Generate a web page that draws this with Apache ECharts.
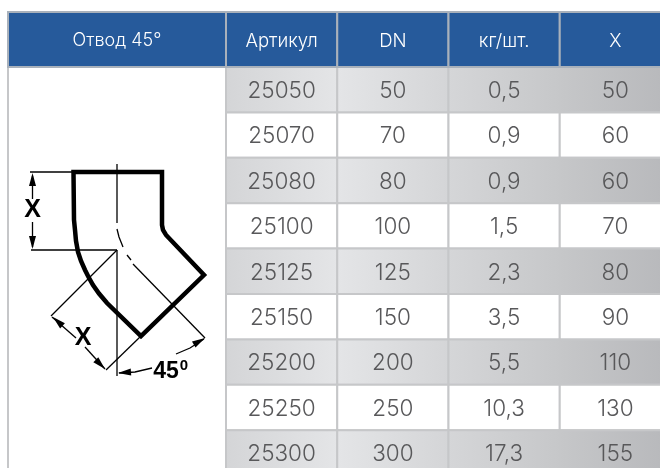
<!DOCTYPE html>
<html>
<head>
<meta charset="utf-8">
<style>
html,body{margin:0;padding:0;background:#fff;}
#main{width:660px;height:468px;}
</style>
<script src="https://cdn.jsdelivr.net/npm/echarts@6/dist/echarts.min.js"></script>
</head>
<body>
<div id="main"></div>
<script>
var headers = ['Артикул', 'DN', 'кг/шт.', 'X'];
var rowIds = ['25050', '25070', '25080', '25100', '25125', '25150', '25200', '25250', '25300'];
var articles = ['25050', '25070', '25080', '25100', '25125', '25150', '25200', '25250', '25300'];
var dnValues = ['50', '70', '80', '100', '125', '150', '200', '250', '300'];
var massValues = ['0,5', '0,9', '0,9', '1,5', '2,3', '3,5', '5,5', '10,3', '17,3'];
var xValues = ['50', '60', '60', '70', '80', '90', '110', '130', '155'];
var columns = [articles, dnValues, massValues, xValues];

var FONT = 'Inter, Roboto, sans-serif';
var BLUE = '#265a9b';
// gradient of the striped rows, one pair per column
var stripe = [['#d4d5d7', '#e4e5e7'], ['#e4e5e7', '#d4d5d7'], ['#d5d6d8', '#c6c7c9'], ['#c6c7c9', '#b7b8bb']];

function cellData() {
  var out = [];
  rowIds.forEach(function (id, r) {
    columns.forEach(function (col, c) {
      out.push([c, r]);
    });
  });
  return out;
}

function renderBody(params, api) {
  var c = api.value(0), r = api.value(1);
  var p = api.coord([c, r]);
  var s = api.size([1, 1]);
  var x = p[0] - s[0] / 2, y = p[1] - s[1] / 2;
  var fill = '#fff';
  if (r % 2 === 0) {
    fill = new echarts.graphic.LinearGradient(0, 0, 1, 0, [
      { offset: 0, color: stripe[c][0] },
      { offset: 1, color: stripe[c][1] }
    ]);
  }
  return {
    type: 'group',
    children: [
      { type: 'rect', shape: { x: x, y: y, width: s[0], height: s[1] },
        style: { fill: fill, stroke: '#c6c7c9', lineWidth: 2 } },
      { type: 'text', style: { x: p[0], y: p[1] + 1.5, text: columns[c][r], fill: '#58585a',
        font: '300 22.5px ' + FONT, align: 'center', verticalAlign: 'middle' } }
    ]
  };
}

function renderHead(params, api) {
  var c = api.value(0);
  var p = api.coord([c, 0]);
  var s = api.size([1, 1]);
  return {
    type: 'group',
    children: [
      { type: 'rect', shape: { x: p[0] - s[0] / 2, y: p[1] - s[1] / 2, width: s[0], height: s[1] },
        style: { fill: BLUE, stroke: '#a9b1bb', lineWidth: 2 } },
      { type: 'text', style: { x: p[0], y: p[1] + 1.5, text: headers[c], fill: '#fff',
        font: '300 18.5px ' + FONT, align: 'center', verticalAlign: 'middle' } }
    ]
  };
}

// --- bend drawing on the left
function line(pts, w) {
  return { type: 'polyline', z: 10, shape: { points: pts }, style: { stroke: '#000', lineWidth: w || 1.3, fill: null } };
}
function arrow(tip, angle, len, wid) {
  var a = angle * Math.PI / 180;
  var bx = tip[0] - Math.cos(a) * len, by = tip[1] - Math.sin(a) * len;
  var nx = -Math.sin(a) * wid / 2, ny = Math.cos(a) * wid / 2;
  return { type: 'polygon', z: 10, shape: { points: [tip, [bx + nx, by + ny], [bx - nx, by - ny]] }, style: { fill: '#000' } };
}
function label(text, x, y, size, weight) {
  return { type: 'text', z: 11, style: { x: x, y: y, text: text, fill: '#000',
    font: (weight || 'bold') + ' ' + size + 'px "Liberation Sans", sans-serif', align: 'center', verticalAlign: 'middle' } };
}

var drawing = [
  { type: 'polygon', z: 10,
    shape: { points: [[73.5, 172], [162, 172], [162, 225], [163, 230], [166, 235], [204, 275], [141, 336], [107, 303], [99, 293.5], [93, 285], [88.5, 277], [85, 270], [81, 261], [78, 252], [76, 241], [75, 230], [74, 220]] },
    style: { fill: null, stroke: '#000', lineWidth: 4.5, lineJoin: 'miter' } },
  line([[117, 164], [117, 223]]),
  line([[117, 229], [119, 237], [123, 247]]),
  line([[127, 255], [131, 260]]),
  line([[133, 264], [205, 338]]),
  line([[117, 250], [117, 376]]),
  line([[30, 172], [73, 172]]),
  line([[31, 250], [117, 250]]),
  line([[32.5, 176], [32.5, 199]]),
  line([[32.5, 222], [32.5, 247]]),
  arrow([32.5, 173], -90, 13, 7),
  arrow([32.5, 249], 90, 13, 7),
  line([[117, 250], [51, 316]]),
  line([[141, 336], [106, 370]]),
  line([[52, 317], [76, 338]]),
  line([[85, 347], [105, 369]]),
  arrow([53, 317], 223, 13, 7),
  arrow([105, 369], 45, 13, 7),
  line([[119, 373], [135, 372], [152, 368]]),
  arrow([118, 373], 176, 13, 7),
  line([[176, 354], [190, 348], [204, 339]]),
  arrow([205, 338], -30, 13, 7),
  label('X', 32.5, 210, 25),
  label('X', 83, 338, 25),
  label('45', 166, 372, 23),
  label('0', 184, 366, 15, 'bold')
];

var chart = echarts.init(document.getElementById('main'), null, { renderer: 'canvas' });
chart.setOption({
  animation: false,
  backgroundColor: '#fff',
  grid: [
    { left: 226, top: 67, width: 445, height: 408.6, outerBoundsMode: 'none' },
    { left: 226, top: 12, width: 445, height: 55, outerBoundsMode: 'none' }
  ],
  xAxis: [
    { gridIndex: 0, type: 'category', data: headers, show: false },
    { gridIndex: 1, type: 'category', data: headers, show: false }
  ],
  yAxis: [
    { gridIndex: 0, type: 'category', data: rowIds, inverse: true, show: false },
    { gridIndex: 1, type: 'category', data: ['head'], show: false }
  ],
  series: [
    { type: 'custom', xAxisIndex: 0, yAxisIndex: 0, data: cellData(), renderItem: renderBody, clip: false, silent: true },
    { type: 'custom', xAxisIndex: 1, yAxisIndex: 1, data: headers.map(function (h, i) { return [i, 0]; }), renderItem: renderHead, clip: false, silent: true }
  ],
  graphic: [
    { type: 'rect', z: 5, shape: { x: 8, y: 12, width: 218, height: 55 }, style: { fill: BLUE, stroke: '#a9b1bb', lineWidth: 2 } },
    { type: 'text', z: 6, style: { x: 117, y: 41, text: 'Отвод 45°', fill: '#fff', font: '300 18px ' + FONT, align: 'center', verticalAlign: 'middle' } },
    { type: 'line', z: 1, shape: { x1: 8, y1: 67, x2: 8, y2: 468 }, style: { stroke: '#c6c7c9', lineWidth: 2 } }
  ].concat(drawing)
});
</script>
</body>
</html>
